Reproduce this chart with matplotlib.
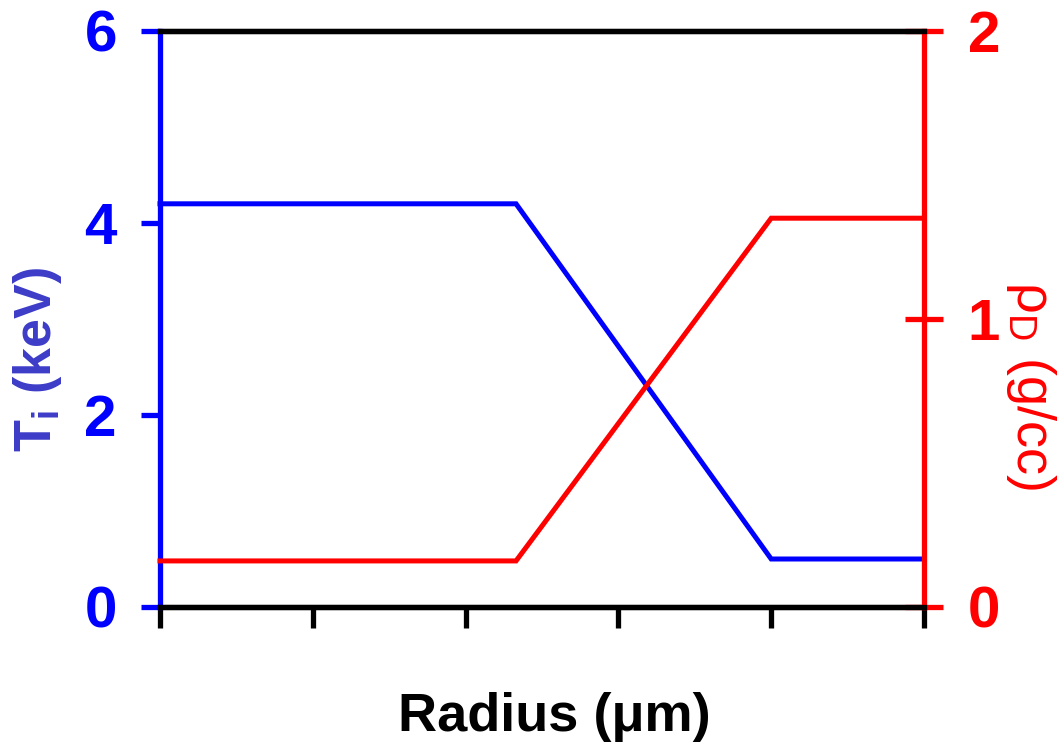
import numpy as np
import matplotlib.pyplot as plt

plt.rcParams['font.family'] = ['Liberation Sans', 'DejaVu Sans']
plt.rcParams['mathtext.fontset'] = 'custom'
plt.rcParams['mathtext.rm'] = 'Liberation Sans'
plt.rcParams['mathtext.it'] = 'Liberation Sans'
plt.rcParams['mathtext.bf'] = 'Liberation Sans:bold'

# radial profiles (arbitrary radius units)
radius = [0, 23.3, 40, 50]
temp_keV = [4.2, 4.2, 0.5, 0.5]
rho_gcc = [0.16, 0.16, 1.35, 1.35]

x_ticks = [0, 10, 20, 30, 40, 50]
t_ticks = [0, 2, 4, 6]
rho_ticks = [0, 1, 2]

BLUE = '#0000ff'
RED = '#ff0000'

fig = plt.figure(figsize=(10.58, 7.43), dpi=100)
ax = fig.add_axes([160 / 1058, 1 - 607 / 743, 764 / 1058, 576 / 743])
ax2 = ax.twinx()

ax.plot(radius, temp_keV, color=BLUE, lw=3.6, solid_joinstyle='miter', clip_on=False, zorder=3)
ax2.plot(radius, rho_gcc, color=RED, lw=3.6, solid_joinstyle='miter', clip_on=False, zorder=3)

ax.set_xlim(0, 50)
ax.set_ylim(0, 6)
ax2.set_ylim(0, 2)

ax.set_xticks(x_ticks)
ax.set_xticklabels([])
ax.set_yticks(t_ticks)
ax2.set_yticks(rho_ticks)

for a in (ax, ax2):
    for s in a.spines.values():
        s.set_linewidth(3.8)
        s.set_color('black')
ax.spines['left'].set_color(BLUE)
ax2.spines['left'].set_visible(False)
ax2.spines['right'].set_color(RED)
ax.spines['right'].set_visible(False)

ax.tick_params(axis='x', direction='out', length=15, width=3.8, color='black')
ax.tick_params(axis='y', direction='out', length=14, width=3.8, color=BLUE,
               labelcolor=BLUE, labelsize=42, pad=17)
ax2.tick_params(axis='y', direction='inout', length=27, width=3.8, color=RED,
                labelcolor=RED, labelsize=42, pad=18)
for lab in ax.get_yticklabels() + ax2.get_yticklabels():
    lab.set_fontweight('bold')

ax.set_ylabel(r'T$_\mathregular{i}$ (keV)', color='#3c3cc8', fontsize=37.5,
              fontweight='bold')
ax.yaxis.set_label_coords(-0.125, 0.43)
ax2.set_ylabel(r'$\mathregular{\rho_D}$ (g/cc)', color=RED, fontsize=39,
               rotation=270)
ax2.yaxis.set_label_coords(1.175, 0.385)
ax.set_xlabel('Radius (\u03bcm)', fontsize=39, fontweight='bold')
ax.xaxis.set_label_coords(0.516, -0.148)

fig.savefig('out.png', dpi=100)
